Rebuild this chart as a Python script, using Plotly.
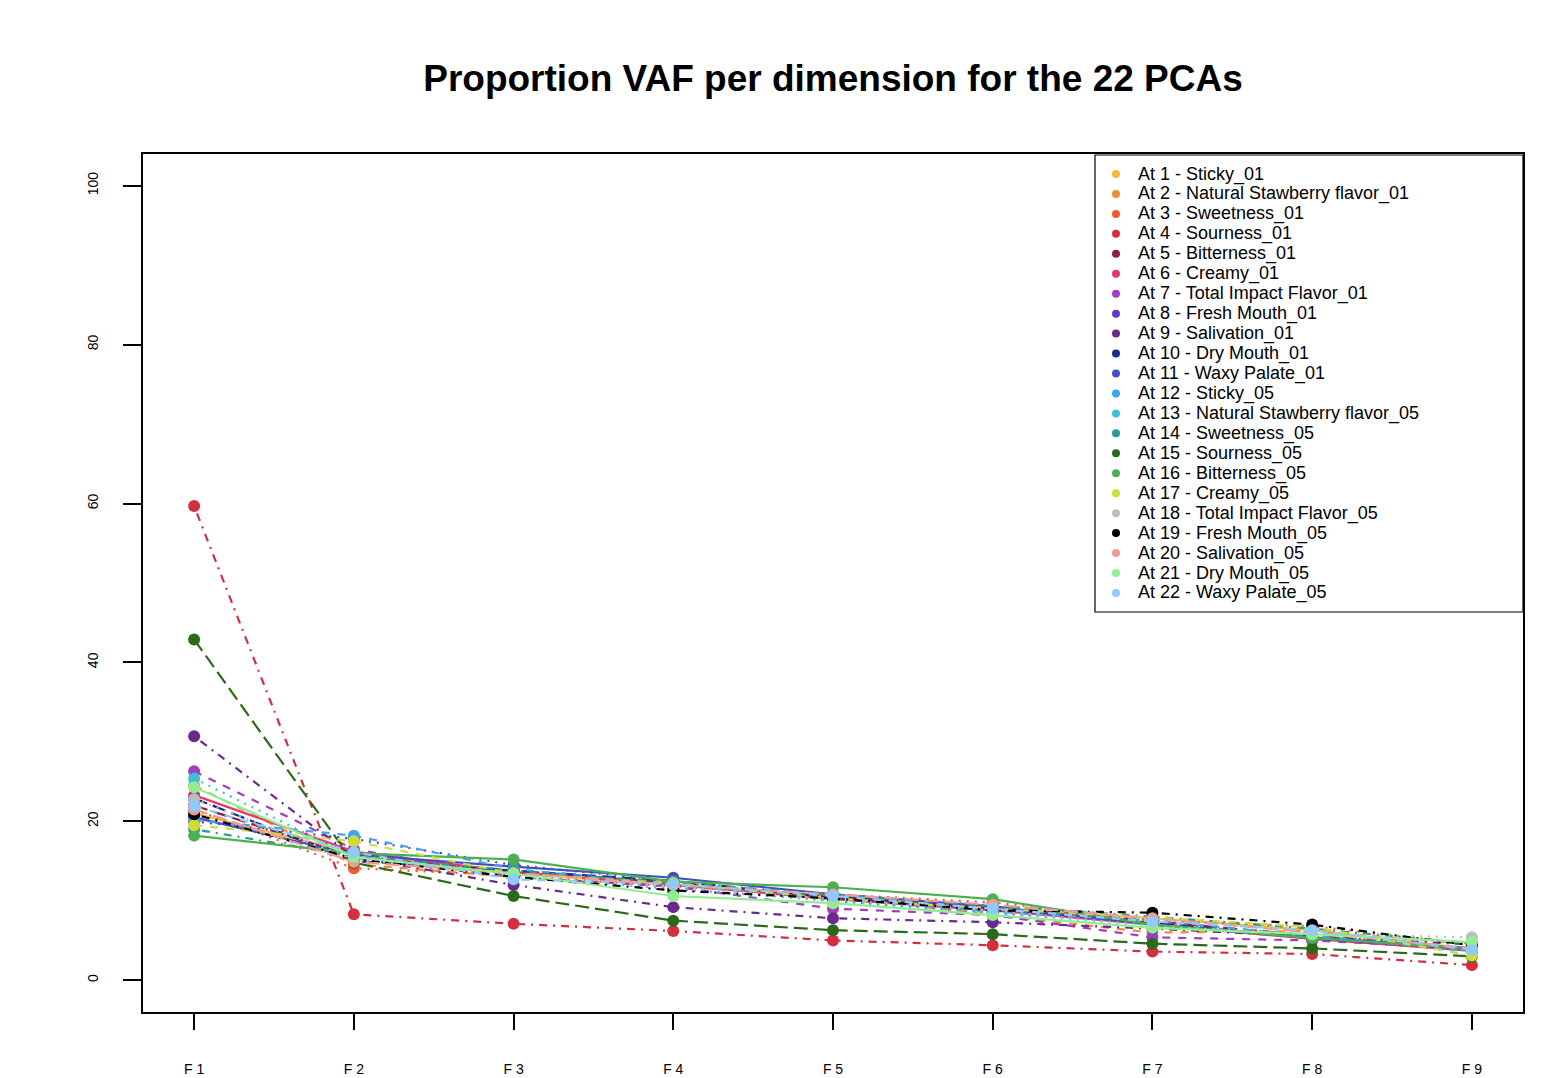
import plotly.graph_objects as go

dims = ["F 1", "F 2", "F 3", "F 4", "F 5", "F 6", "F 7", "F 8", "F 9"]

names = [
    "At 1 - Sticky_01", "At 2 - Natural Stawberry flavor_01", "At 3 - Sweetness_01",
    "At 4 - Sourness_01", "At 5 - Bitterness_01", "At 6 - Creamy_01",
    "At 7 - Total Impact Flavor_01", "At 8 - Fresh Mouth_01", "At 9 - Salivation_01",
    "At 10 - Dry Mouth_01", "At 11 - Waxy Palate_01", "At 12 - Sticky_05",
    "At 13 - Natural Stawberry flavor_05", "At 14 - Sweetness_05", "At 15 - Sourness_05",
    "At 16 - Bitterness_05", "At 17 - Creamy_05", "At 18 - Total Impact Flavor_05",
    "At 19 - Fresh Mouth_05", "At 20 - Salivation_05", "At 21 - Dry Mouth_05",
    "At 22 - Waxy Palate_05",
]

colors = [
    "#F8B73B", "#F28C38", "#EF5A2E", "#D32F3F", "#8E1E45", "#E8386A",
    "#A23CC0", "#6639C6", "#6A2A8C", "#1A2D8C", "#3F51C0", "#3FA6EE",
    "#3FBFD6", "#2E9A8C", "#2A6A1A", "#4CAF50", "#CDDC39", "#BDBDBD",
    "#000000", "#EF9A9A", "#90EE90", "#90CAF9",
]

at01 = [21.0, 16.0, 13.5, 12.0, 10.5, 9.0, 7.8, 6.3, 3.9]
at02 = [24.5, 14.6, 13.0, 11.8, 10.6, 8.2, 6.0, 6.2, 4.5]
at03 = [21.5, 14.1, 13.2, 11.8, 10.8, 9.8, 7.5, 6.8, 4.5]
at04 = [59.7, 8.3, 7.1, 6.2, 5.0, 4.4, 3.6, 3.3, 1.9]
at05 = [22.0, 15.5, 13.8, 12.2, 10.5, 9.2, 7.4, 5.6, 3.8]
at06 = [23.3, 16.2, 13.6, 12.0, 10.2, 8.8, 7.0, 5.2, 3.7]
at07 = [26.3, 16.5, 13.0, 11.8, 9.0, 8.2, 5.4, 5.0, 4.0]
at08 = [20.0, 17.8, 14.5, 12.5, 10.0, 8.5, 7.2, 5.5, 4.0]
at09 = [30.7, 15.5, 12.0, 9.2, 7.8, 7.3, 6.5, 5.5, 4.5]
at10 = [22.9, 15.0, 13.8, 12.5, 10.4, 9.0, 7.2, 5.3, 3.9]
at11 = [20.5, 15.8, 14.3, 12.9, 10.8, 9.3, 7.0, 5.4, 4.0]
at12 = [20.2, 18.2, 14.0, 12.0, 10.3, 8.6, 7.5, 5.6, 3.6]
at13 = [25.4, 15.5, 13.0, 11.5, 10.0, 8.5, 6.9, 5.4, 3.8]
at14 = [19.0, 15.6, 13.8, 12.3, 10.8, 9.4, 8.0, 6.5, 4.6]
at15 = [42.9, 14.8, 10.6, 7.5, 6.3, 5.8, 4.6, 4.0, 3.0]
at16 = [18.2, 16.0, 15.2, 12.4, 11.7, 10.2, 7.0, 5.3, 4.0]
at17 = [19.5, 17.5, 13.4, 12.2, 10.3, 9.0, 7.9, 6.7, 3.1]
at18 = [22.8, 15.2, 13.2, 11.8, 10.2, 8.8, 6.8, 5.8, 5.4]
at19 = [20.9, 15.3, 13.0, 11.3, 10.3, 8.8, 8.5, 7.0, 4.4]
at20 = [21.5, 14.9, 13.5, 12.0, 10.8, 9.5, 7.8, 6.0, 4.0]
at21 = [24.3, 15.5, 13.4, 10.6, 9.7, 8.2, 6.6, 5.8, 4.8]
at22 = [21.9, 16.1, 12.7, 12.1, 10.6, 9.0, 7.4, 6.3, 3.8]

series = [at01, at02, at03, at04, at05, at06, at07, at08, at09, at10, at11,
          at12, at13, at14, at15, at16, at17, at18, at19, at20, at21, at22]

# R matplot line types cycle 1:5
dashes = ["solid", "8px,8px", "2px,6px", "2px,6px,8px,6px", "14px,6px"]

xpos = list(range(1, len(dims) + 1))

fig = go.Figure()
for i, (nm, vals) in enumerate(zip(names, series)):
    fig.add_trace(go.Scatter(
        x=xpos, y=vals, mode="lines+markers", name=nm,
        line=dict(color=colors[i], width=2.2, dash=dashes[i % 5]),
        marker=dict(color=colors[i], size=12),
        showlegend=False,
    ))

# plot area in pixels
L, R, T, B = 143, 1523, 154, 1012
W, H = R - L, B - T


def px(xp):
    return (xp - L) / W


def py(yp):
    return (B - yp) / H


shapes = [dict(type="rect", xref="paper", yref="paper",
               x0=px(1095), x1=px(1523), y0=py(612), y1=py(155),
               line=dict(color="black", width=1.2), fillcolor="white", layer="above")]
annotations = []
for i, nm in enumerate(names):
    yc = 174 + i * 19.95
    shapes.append(dict(type="circle", xref="paper", yref="paper",
                       x0=px(1112), x1=px(1120), y0=py(yc + 4), y1=py(yc - 4),
                       fillcolor=colors[i], line=dict(width=0), layer="above"))
    annotations.append(dict(xref="paper", yref="paper", x=px(1136), y=py(yc),
                            text=nm, showarrow=False, xanchor="left", yanchor="middle",
                            font=dict(family="Liberation Sans", size=18, color="black")))

fig.update_layout(
    width=1555, height=1078,
    margin=dict(l=L, r=1555 - R, t=T, b=1078 - B, autoexpand=False),
    paper_bgcolor="white", plot_bgcolor="white",
    font=dict(family="Liberation Sans", color="black"),
    title=dict(text="Proportion VAF per dimension for the 22 PCAs",
               x=(L + R) / 2 / 1555, xanchor="center",
               y=1 - 78 / 1078, yanchor="middle",
               font=dict(family="Liberation Sans", size=37, color="black", weight="bold")),
    xaxis=dict(range=[0.68, 9.32], tickvals=xpos, ticktext=dims, automargin=False,
               showgrid=False, zeroline=False, showline=True, mirror=True,
               linecolor="black", linewidth=1.5, ticks="outside", ticklen=16,
               tickwidth=1.5, tickcolor="black", ticklabelstandoff=27,
               tickfont=dict(size=14, family="Liberation Sans")),
    yaxis=dict(range=[-4.0, 104.0], tickvals=[0, 20, 40, 60, 80, 100], automargin=False,
               showgrid=False, zeroline=False, showline=True, mirror=True,
               linecolor="black", linewidth=1.5, ticks="outside", ticklen=18,
               tickwidth=1.5, tickcolor="black", tickangle=-90, ticklabelstandoff=20,
               tickfont=dict(size=14, family="Liberation Sans")),
    shapes=shapes, annotations=annotations,
)

fig.write_html("out.html")
